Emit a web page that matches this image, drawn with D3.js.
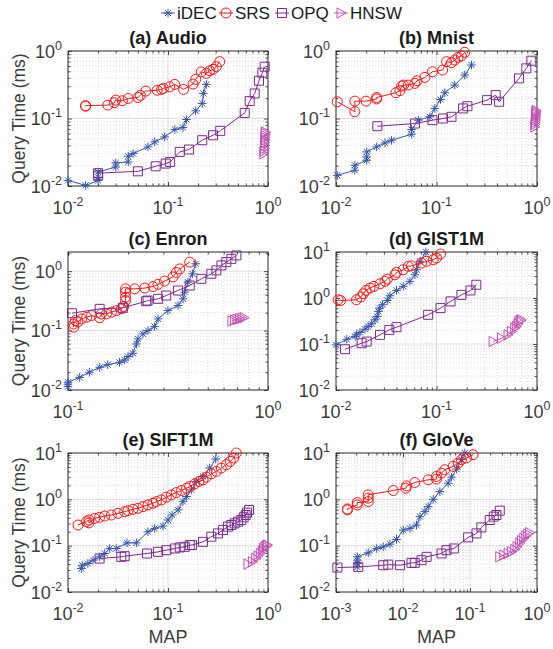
<!DOCTYPE html>
<html><head><meta charset="utf-8">
<script src="https://cdn.jsdelivr.net/npm/d3@7"></script>
<style>body{margin:0;background:#fff}</style>
</head><body><svg id="c" width="553" height="649"></svg>
<script>
// ---------------- DATA (MAP, query time in ms) ----------------
const seriesNames = ["iDEC", "SRS", "OPQ", "HNSW"];
const panelTitles = ["(a) Audio", "(b) Mnist", "(c) Enron", "(d) GIST1M", "(e) SIFT1M", "(f) GloVe"];
const xTickExps = [[-2,-1,0],[-2,-1,0],[-1,0],[-2,-1,0],[-2,-1,0],[-3,-2,-1,0]];
const yTickExps = [[-2,-1,0],[-2,-1,0],[-2,-1,0],[-2,-1,0,1],[-2,-1,0,1],[-2,-1,0,1]];
const xDomains = [[0.01,1],[0.01,1],[0.1,1],[0.01,1],[0.01,1],[0.001,1]];
const yDomains = [[0.01,1],[0.01,1],[0.01,2.1],[0.01,10],[0.01,10],[0.01,10]];

const audioIDEC = [[0.01,0.0121],[0.015,0.0102],[0.02,0.0121],[0.02,0.0135],[0.02,0.0161],[0.03,0.0191],[0.03,0.022],[0.04,0.0227],[0.04,0.0276],[0.0447,0.0302],[0.063,0.038],[0.0736,0.045],[0.0926,0.0534],[0.117,0.0687],[0.141,0.0735],[0.153,0.0966],[0.189,0.13],[0.22,0.167],[0.226,0.235],[0.242,0.32]];
const audioSRS = [[0.015,0.152],[0.015,0.155],[0.025,0.158],[0.029,0.171],[0.030,0.187],[0.035,0.183],[0.040,0.198],[0.050,0.205],[0.053,0.22],[0.060,0.255],[0.078,0.262],[0.086,0.27],[0.090,0.279],[0.104,0.295],[0.117,0.32],[0.143,0.27],[0.178,0.324],[0.189,0.38],[0.215,0.49],[0.242,0.466],[0.261,0.51],[0.282,0.534],[0.304,0.585],[0.329,0.695]];
const audioOPQ = [[0.02,0.0144],[0.02,0.0155],[0.05,0.0165],[0.0753,0.0196],[0.0948,0.0215],[0.105,0.0227],[0.131,0.032],[0.162,0.0347],[0.22,0.0477],[0.282,0.0565],[0.333,0.0656],[0.585,0.121],[0.656,0.181],[0.736,0.235],[0.813,0.363],[0.878,0.477],[0.926,0.585]];
const audioHNSW = [[0.91,0.030],[0.915,0.033],[0.92,0.036],[0.925,0.040],[0.93,0.044],[0.932,0.048],[0.935,0.052],[0.938,0.056],[0.94,0.060],[0.942,0.063]];

const mnistIDEC = [[0.0103,0.0144],[0.0154,0.0171],[0.0154,0.0203],[0.0202,0.024],[0.0202,0.027],[0.0202,0.032],[0.0254,0.038],[0.0307,0.0435],[0.0357,0.0477],[0.0565,0.0585],[0.0565,0.0687],[0.0658,0.0944],[0.0859,0.106],[0.0962,0.141],[0.1096,0.191],[0.121,0.241],[0.152,0.313],[0.191,0.44],[0.223,0.62]];
const mnistSRS = [[0.0103,0.177],[0.0154,0.126],[0.0154,0.181],[0.0199,0.181],[0.0254,0.195],[0.0254,0.205],[0.0394,0.241],[0.0432,0.258],[0.0449,0.302],[0.047,0.313],[0.0524,0.313],[0.061,0.331],[0.064,0.363],[0.0766,0.406],[0.0912,0.493],[0.115,0.522],[0.126,0.695],[0.141,0.671],[0.152,0.735],[0.164,0.805],[0.177,0.843],[0.191,0.955]];
const mnistOPQ = [[0.0258,0.0769],[0.061,0.0843],[0.0912,0.0944],[0.116,0.1],[0.141,0.106],[0.184,0.141],[0.203,0.152],[0.318,0.187],[0.388,0.222],[0.42,0.177],[0.662,0.393],[0.783,0.553],[0.879,0.718]];
const mnistHNSW = [[0.95,0.075],[0.955,0.082],[0.96,0.088],[0.965,0.095],[0.968,0.102],[0.97,0.108],[0.972,0.115],[0.975,0.12],[0.978,0.126],[0.98,0.132]];

const enronIDEC = [[0.1,0.0114],[0.1,0.0125],[0.1,0.0135],[0.1143,0.0163],[0.128,0.0199],[0.144,0.0241],[0.158,0.0267],[0.181,0.0292],[0.192,0.032],[0.1995,0.0365],[0.211,0.0415],[0.22,0.0596],[0.224,0.0724],[0.237,0.088],[0.251,0.1],[0.271,0.1167],[0.282,0.157],[0.316,0.217],[0.355,0.264],[0.376,0.342],[0.383,0.443],[0.398,0.653],[0.419,0.902],[0.435,1.33]];
const enronSRS = [[0.1067,0.114],[0.1067,0.129],[0.109,0.1475],[0.112,0.14],[0.117,0.157],[0.124,0.168],[0.131,0.179],[0.144,0.165],[0.147,0.19],[0.1555,0.191],[0.165,0.204],[0.1745,0.217],[0.185,0.232],[0.19,0.254],[0.194,0.32],[0.194,0.365],[0.194,0.443],[0.194,0.504],[0.2155,0.504],[0.242,0.52],[0.266,0.55],[0.282,0.60],[0.304,0.68],[0.335,0.80],[0.348,0.95],[0.362,1.09],[0.406,1.42]];
const enronOPQ = [[0.1047,0.196],[0.144,0.232],[0.188,0.241],[0.246,0.312],[0.25,0.32],[0.282,0.342],[0.31,0.389],[0.355,0.472],[0.406,0.573],[0.464,0.743],[0.521,0.902],[0.552,1.03],[0.585,1.25],[0.619,1.42],[0.656,1.61],[0.695,1.84]];
const enronHNSW = [[0.66,0.145],[0.68,0.150],[0.70,0.154],[0.72,0.158],[0.74,0.162],[0.76,0.165]];

const gistIDEC = [[0.01,0.0957],[0.0128,0.127],[0.0155,0.146],[0.016,0.158],[0.0173,0.178],[0.0194,0.21],[0.0209,0.24],[0.0226,0.275],[0.0244,0.336],[0.0257,0.396],[0.0264,0.51],[0.0272,0.6],[0.0291,0.713],[0.0324,0.885],[0.0344,1.12],[0.04,1.46],[0.0467,1.79],[0.0544,2.3],[0.061,3.2],[0.0633,4.12],[0.0683,6.27],[0.0783,10]];
const gistSRS = [[0.0105,0.916],[0.0111,0.88],[0.016,0.916],[0.0176,1.05],[0.0187,1.24],[0.0199,1.46],[0.0218,1.65],[0.0238,1.79],[0.0274,2.04],[0.0307,2.3],[0.0324,2.58],[0.0386,3.2],[0.04,3.6],[0.0467,4.12],[0.0524,4.87],[0.0565,5.0],[0.071,5.75],[0.0796,6.26],[0.0927,6.81],[0.1,7.4],[0.1096,9.04]];
const gistOPQ = [[0.0123,0.077],[0.018,0.104],[0.0202,0.113],[0.0274,0.158],[0.0339,0.203],[0.04,0.232],[0.0826,0.431],[0.1096,0.603],[0.138,0.842],[0.177,1.17],[0.218,1.46],[0.249,1.94]];
const gistHNSW = [[0.366,0.113],[0.443,0.134],[0.515,0.158],[0.556,0.187],[0.6,0.221],[0.623,0.24],[0.648,0.275],[0.66,0.308],[0.683,0.322],[0.698,0.336]];

const siftIDEC = [[0.0136,0.032],[0.0139,0.0378],[0.0158,0.0411],[0.0178,0.0486],[0.0207,0.0574],[0.0233,0.0678],[0.0261,0.0869],[0.0304,0.0869],[0.0389,0.115],[0.0483,0.115],[0.063,0.2],[0.0736,0.236],[0.0891,0.265],[0.1,0.358],[0.11,0.459],[0.126,0.59],[0.141,0.895],[0.153,1.15],[0.171,1.6],[0.192,2.43],[0.224,3.12],[0.261,4.73],[0.3,7.4]];
const siftSRS = [[0.0126,0.279],[0.0153,0.33],[0.0162,0.358],[0.0162,0.31],[0.0185,0.389],[0.0207,0.41],[0.0233,0.437],[0.0271,0.459],[0.0316,0.499],[0.0369,0.543],[0.0398,0.57],[0.0447,0.61],[0.0501,0.641],[0.0562,0.697],[0.063,0.757],[0.0708,0.823],[0.0764,0.895],[0.0858,0.972],[0.0963,1.11],[0.108,1.25],[0.121,1.4],[0.136,1.55],[0.153,1.74],[0.165,1.89],[0.185,2.16],[0.204,2.43],[0.224,2.64],[0.242,3.02],[0.271,3.56],[0.304,4.0],[0.341,4.73],[0.383,5.59],[0.42,6.6],[0.454,7.8],[0.483,10]];
const siftOPQ = [[0.0207,0.0527],[0.0341,0.0574],[0.0369,0.0593],[0.0616,0.0678],[0.0794,0.0736],[0.0963,0.08],[0.117,0.0869],[0.131,0.0914],[0.147,0.0944],[0.165,0.103],[0.174,0.103],[0.224,0.121],[0.271,0.156],[0.316,0.184],[0.355,0.217],[0.398,0.257],[0.43,0.279],[0.464,0.303],[0.501,0.33],[0.541,0.358],[0.571,0.409],[0.598,0.459],[0.617,0.516],[0.646,0.59]];
const siftHNSW = [[0.631,0.040],[0.697,0.0447],[0.753,0.0527],[0.794,0.0593],[0.838,0.0678],[0.877,0.0774],[0.905,0.0869],[0.933,0.0944],[0.963,0.0993],[0.99,0.103]];

const gloveIDEC = [[0.00208,0.0348],[0.00208,0.0415],[0.00208,0.0486],[0.00208,0.0574],[0.00303,0.07],[0.00404,0.0869],[0.00507,0.0944],[0.00638,0.108],[0.008,0.136],[0.0101,0.217],[0.0127,0.236],[0.0159,0.279],[0.0179,0.423],[0.0212,0.543],[0.0238,0.697],[0.0282,1.0],[0.0355,1.47],[0.0472,2.23],[0.053,3.01],[0.0628,4.5],[0.0746,7.2],[0.0837,10]];
const gloveSRS = [[0.00148,0.59],[0.00148,0.62],[0.00208,0.757],[0.00208,0.851],[0.00303,0.895],[0.00303,1.06],[0.00303,1.25],[0.00715,1.55],[0.011,1.74],[0.0113,1.95],[0.015,2.31],[0.0238,2.64],[0.0316,2.73],[0.0316,3.12],[0.0376,3.68],[0.042,4.35],[0.056,5.14],[0.0666,6.07],[0.0746,7.17],[0.0886,7.8],[0.111,9.2]];
const gloveOPQ = [[0.00105,0.0337],[0.00215,0.0348],[0.00507,0.0378],[0.00603,0.039],[0.009,0.0378],[0.0134,0.0426],[0.015,0.0426],[0.0189,0.0486],[0.0225,0.0574],[0.0376,0.0678],[0.0446,0.08],[0.0574,0.0869],[0.0938,0.151],[0.125,0.184],[0.148,0.248],[0.197,0.358],[0.226,0.423],[0.248,0.459],[0.278,0.57]];
const gloveHNSW = [[0.278,0.0574],[0.319,0.0624],[0.37,0.0678],[0.415,0.0736],[0.466,0.0828],[0.504,0.0944],[0.552,0.112],[0.585,0.128],[0.634,0.143],[0.679,0.161],[0.727,0.178],[0.778,0.19]];

const panelData = [
  [audioIDEC, audioSRS, audioOPQ, audioHNSW],
  [mnistIDEC, mnistSRS, mnistOPQ, mnistHNSW],
  [enronIDEC, enronSRS, enronOPQ, enronHNSW],
  [gistIDEC, gistSRS, gistOPQ, gistHNSW],
  [siftIDEC, siftSRS, siftOPQ, siftHNSW],
  [gloveIDEC, gloveSRS, gloveOPQ, gloveHNSW]
];

// ---------------- STYLE / LAYOUT ----------------
const FONT = '"Liberation Sans", Arial, Helvetica, sans-serif';
const colors = {iDEC:"#3a58a8", SRS:"#ff1414", OPQ:"#7b2b8c", HNSW:"#c450b4"};
const markerType = {iDEC:"star", SRS:"circle", OPQ:"square", HNSW:"tri"};
const colX = [[68,268],[336,537]];
const rowY = [[51,186],[252,390],[453,592]];
const AX = "#262626", TXT = "#3c3c3c";
const TICKFS = 18, EXPFS = 12.5;

const svg = d3.select("#c");

function markerPath(t){
  if(t==="star"){const r=4.3,a=r*0.7071;return `M${-r},0H${r}M0,${-r}V${r}M${-a},${-a}L${a},${a}M${-a},${a}L${a},${-a}`;}
  if(t==="circle"){const r=5;return `M${r},0A${r},${r} 0 1,1 ${-r},0A${r},${r} 0 1,1 ${r},0Z`;}
  if(t==="square"){const s=4.5;return `M${-s},${-s}H${s}V${s}H${-s}Z`;}
  if(t==="tri"){return `M-4,-5.2L5,0L-4,5.2Z`;}
}

function powLabel(g, x, y, exp, anchor){
  const t = g.append("text").attr("x",x).attr("y",y).attr("text-anchor",anchor)
    .attr("font-family",FONT).attr("font-size",TICKFS).attr("fill",TXT);
  t.append("tspan").text("10");
  t.append("tspan").attr("dy",-8).attr("font-size",EXPFS).text(String(exp));
}

panelData.forEach((series, i) => {
  const col = i % 2, row = Math.floor(i / 2);
  const [x0,x1] = colX[col], [y0,y1] = rowY[row];
  const x = d3.scaleLog().domain(xDomains[i]).range([x0,x1]);
  const y = d3.scaleLog().domain(yDomains[i]).range([y1,y0]);
  const g = svg.append("g");

  const minorVals = (dom) => {
    const out=[]; const lo=Math.floor(Math.log10(dom[0])), hi=Math.ceil(Math.log10(dom[1]));
    for(let k=lo;k<hi;k++) for(let m=2;m<=9;m++){const v=m*Math.pow(10,k); if(v>dom[0]*1.0001 && v<dom[1]*0.9999) out.push(v);}
    return out;
  };
  const xMin = minorVals(xDomains[i]), yMin = minorVals(yDomains[i]);
  const xMaj = xTickExps[i].map(e=>Math.pow(10,e)), yMaj = yTickExps[i].map(e=>Math.pow(10,e));

  // grid
  const grid = g.append("g");
  grid.selectAll(".xmg").data(xMin).join("line").attr("x1",d=>x(d)).attr("x2",d=>x(d)).attr("y1",y0).attr("y2",y1)
    .attr("stroke","#cccccc").attr("stroke-width",0.7).attr("stroke-dasharray","1,2");
  grid.selectAll(".ymg").data(yMin).join("line").attr("y1",d=>y(d)).attr("y2",d=>y(d)).attr("x1",x0).attr("x2",x1)
    .attr("stroke","#cccccc").attr("stroke-width",0.7).attr("stroke-dasharray","1,2");
  grid.selectAll(".xMg").data(xMaj.filter(v=>v>xDomains[i][0]*1.0001&&v<xDomains[i][1]*0.9999)).join("line")
    .attr("x1",d=>x(d)).attr("x2",d=>x(d)).attr("y1",y0).attr("y2",y1).attr("stroke","#dcdcdc").attr("stroke-width",1);
  grid.selectAll(".yMg").data(yMaj.filter(v=>v>yDomains[i][0]*1.0001&&v<yDomains[i][1]*0.9999)).join("line")
    .attr("y1",d=>y(d)).attr("y2",d=>y(d)).attr("x1",x0).attr("x2",x1).attr("stroke","#dcdcdc").attr("stroke-width",1);

  // inward ticks on all four sides
  const mk = (axisFn, scale, vals, size, tr) => {
    const a = g.append("g").attr("transform",tr)
      .call(axisFn(scale).tickValues(vals).tickSizeInner(size).tickSizeOuter(0).tickFormat(()=>""));
    a.select(".domain").remove();
    a.selectAll("line").attr("stroke",AX).attr("stroke-width",0.8);
  };
  mk(d3.axisBottom, x, xMaj, -4, `translate(0,${y1})`);
  mk(d3.axisBottom, x, xMin, -2.5, `translate(0,${y1})`);
  mk(d3.axisTop, x, xMaj, -4, `translate(0,${y0})`);
  mk(d3.axisTop, x, xMin, -2.5, `translate(0,${y0})`);
  mk(d3.axisLeft, y, yMaj, -4, `translate(${x0},0)`);
  mk(d3.axisLeft, y, yMin, -2.5, `translate(${x0},0)`);
  mk(d3.axisRight, y, yMaj, -4, `translate(${x1},0)`);
  mk(d3.axisRight, y, yMin, -2.5, `translate(${x1},0)`);

  g.append("rect").attr("x",x0).attr("y",y0).attr("width",x1-x0).attr("height",y1-y0)
    .attr("fill","none").attr("stroke",AX).attr("stroke-width",1);

  // tick labels
  xTickExps[i].forEach(e => powLabel(g, x(Math.pow(10,e)), y1+28, e, "middle"));
  yTickExps[i].forEach(e => powLabel(g, x0-6, y(Math.pow(10,e))+6.5, e, "end"));

  // series
  series.forEach((pts, si) => {
    const name = seriesNames[si], c = colors[name];
    const line = d3.line().x(d=>x(d[0])).y(d=>y(d[1]));
    g.append("path").datum(pts).attr("d",line).attr("fill","none").attr("stroke",c).attr("stroke-width",1);
    g.selectAll(null).data(pts).join("path")
      .attr("transform",d=>`translate(${x(d[0])},${y(d[1])})`)
      .attr("d",markerPath(markerType[name])).attr("fill","none").attr("stroke",c).attr("stroke-width",1);
  });

  // title
  g.append("text").attr("x",(x0+x1)/2).attr("y",y0-7).attr("text-anchor","middle")
    .attr("font-family",FONT).attr("font-size",18).attr("font-weight","bold").attr("fill","#1a1a1a")
    .text(panelTitles[i]);

  if(col===0){
    g.append("text").attr("transform",`translate(19,${(y0+y1)/2}) rotate(-90)`).attr("text-anchor","middle")
      .attr("dominant-baseline","central").attr("font-family",FONT).attr("font-size",17.5).attr("fill",TXT)
      .text("Query Time (ms)");
  }
  if(row===2){
    g.append("text").attr("x",(x0+x1)/2).attr("y",643).attr("text-anchor","middle")
      .attr("font-family",FONT).attr("font-size",18).attr("fill",TXT).text("MAP");
  }
});

// legend
const legendX = [168, 226, 282, 341];
const lg = svg.append("g");
seriesNames.forEach((name, i) => {
  const c = colors[name], cx = legendX[i], cy = 13;
  lg.append("line").attr("x1",cx-7).attr("x2",cx+7).attr("y1",cy).attr("y2",cy).attr("stroke",c).attr("stroke-width",1);
  lg.append("path").attr("transform",`translate(${cx},${cy})`).attr("d",markerPath(markerType[name]))
    .attr("fill","none").attr("stroke",c).attr("stroke-width",1);
  lg.append("text").attr("x",cx+9).attr("y",cy+6).attr("font-family",FONT).attr("font-size",17)
    .attr("fill","#1a1a1a").text(name);
});
</script>
</body></html>
